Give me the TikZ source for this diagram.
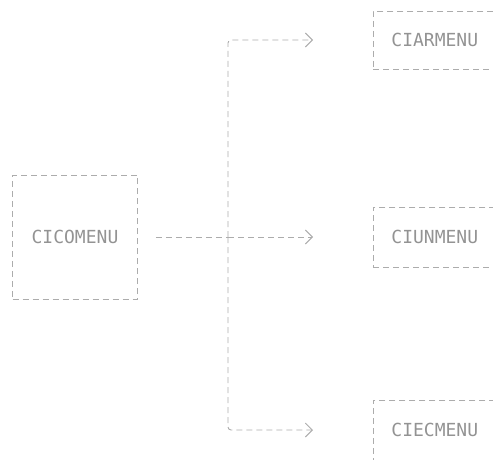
\documentclass[tikz,border=0pt]{standalone}
\usepackage{fontspec}
\setmonofont{DejaVu Sans Mono}
\usetikzlibrary{arrows.meta}

\begin{document}
\begin{tikzpicture}[x=1pt, y=-1pt, >={Straight Barb[length=7pt, width=14pt]},
    menubox/.style={draw=gray!65, dashed, dash pattern=on 6pt off 4pt, line width=0.9pt,
        text=gray!85, font=\ttfamily\fontsize{18}{21}\selectfont},
    link/.style={draw=gray!65, dash pattern=on 6pt off 4pt, line width=0.9pt, rounded corners=3pt}]
        \useasboundingbox (0,0) rectangle (493,460);
        \clip (0,0) rectangle (493,460);
        % ==== MAIN MENU ====
        \node[menubox, minimum width=125, minimum height=124] (cicomenu) at (75,237) {CICOMENU};
        % ==== SUB MENUS ====
        \node[menubox, anchor=west, text width=150, align=left, inner xsep=18, minimum height=58] (ciarmenu) at (373,40) {CIARMENU};
        \node[menubox, anchor=west, text width=150, align=left, inner xsep=18, minimum height=60] (ciunmenu) at (373,237) {CIUNMENU};
        \node[menubox, anchor=west, text width=150, align=left, inner xsep=18, minimum height=60] (ciecmenu) at (373,430) {CIECMENU};
        % ==== CONNECTORS ====
        \coordinate (hub) at (228,237);
        \draw[link, shorten <=18pt] (cicomenu.east) -- (hub);
        \draw[link, ->, shorten >=60pt] (hub) |- (ciarmenu.west);
        \draw[link, ->, shorten >=60pt] (hub) -- (ciunmenu.west);
        \draw[link, ->, shorten >=60pt] (hub) |- (ciecmenu.west);
\end{tikzpicture}
\end{document}
